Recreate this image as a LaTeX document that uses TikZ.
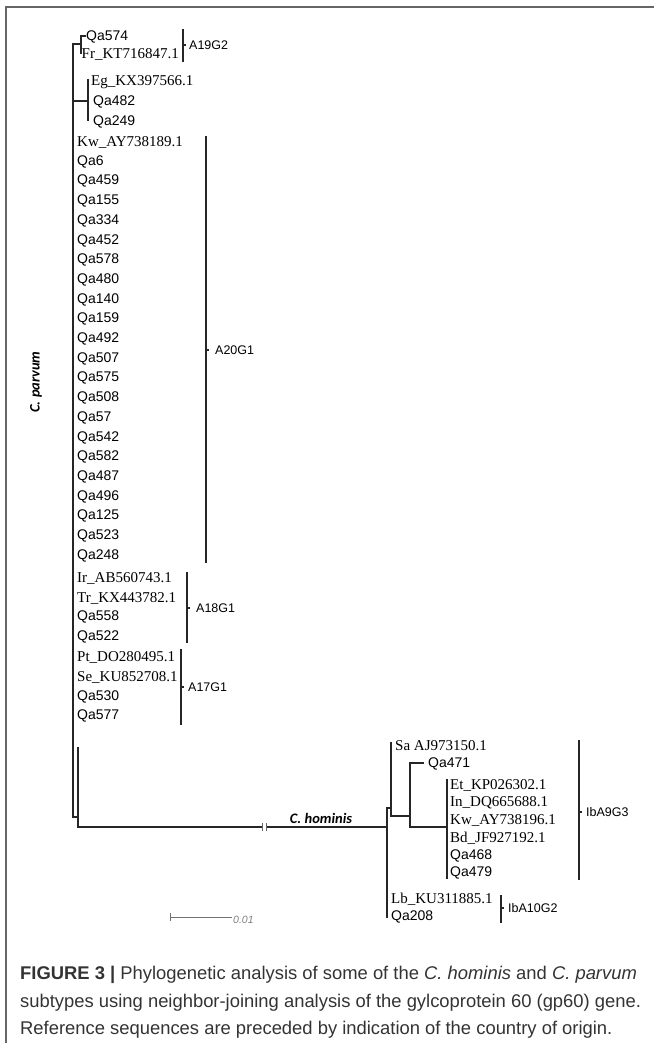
\documentclass[tikz,border=0pt]{standalone}
\usepackage{fontspec}
\setmainfont{Liberation Serif}
\newfontfamily\arialf{Liberation Sans}
\newfontfamily\calf{Carlito}
\definecolor{capgray}{HTML}{333333}
\definecolor{framegray}{HTML}{666666}
\tikzset{
  tree/.style={line width=1.2pt, draw=black!85, line cap=rect},
  brk/.style={line width=1.1pt, draw=black!85},
  leaf/.style={anchor=west, inner sep=0pt, font=\fontsize{15}{15}\selectfont},
  qa/.style={anchor=west, inner sep=0pt, font=\arialf\fontsize{14}{14}\selectfont},
  grp/.style={anchor=west, inner sep=0pt, font=\arialf\fontsize{12.5}{13}\selectfont},
  sp/.style={inner sep=0pt, font=\calf\bfseries\itshape\fontsize{14.5}{15}\selectfont},
  captxt/.style={anchor=west, inner sep=0pt, text=capgray, font=\arialf\fontsize{18.4}{19}\selectfont},
}
\begin{document}
\begin{tikzpicture}[x=1pt,y=-1pt]
\useasboundingbox (0,0) rectangle (654,1043);
% frame
\draw[framegray, line width=1.2pt] (6,1043) -- (6,7) -- (654,7);

% ---------- C. parvum ----------
\node[qa] (qa574) at (86,37) {Qa574};
\node[leaf] (fr) at (81.5,54) {Fr\_KT716847.1};
\node[leaf] (eg) at (91,82) {Eg\_KX397566.1};
\node[qa] (qa482) at (93,102) {Qa482};
\node[qa] (qa249) at (93,122) {Qa249};
\node[leaf] (kw) at (77,142) {Kw\_AY738189.1};
\foreach \t [count=\i] in {Qa6,Qa459,Qa155,Qa334,Qa452,Qa578,Qa480,Qa140,Qa159,Qa492,Qa507,Qa575,Qa508,Qa57,Qa542,Qa582,Qa487,Qa496,Qa125,Qa523,Qa248}
  \node[qa] (p\i) at (77,{142+\i*19.7}) {\t};
\node[leaf] (ir) at (77,578) {Ir\_AB560743.1};
\node[leaf] (tr) at (77,598) {Tr\_KX443782.1};
\node[qa] (qa558) at (77,617) {Qa558};
\node[qa] (qa522) at (77,637) {Qa522};
\node[leaf] (pt) at (77,657) {Pt\_DO280495.1};
\node[leaf] (se) at (77,677) {Se\_KU852708.1};
\node[qa] (qa530) at (77,697) {Qa530};
\node[qa] (qa577) at (77,716) {Qa577};

% parvum branches
\draw[tree] (73,44) -- (73,817) -- (78,817);
\draw[tree] (73,44) -- (81,44);
\draw[tree] (85,36) -- (81,36) -- (81,53);
\draw[tree] (73,101) -- (88,101);
\draw[tree] (88,80) -- (88,120);
\draw[tree] (78,748) -- (78,827);

% parvum brackets
\draw[brk] (183,29) -- (183,62);  \draw[brk] (183,45) -- (186,45);
\node[grp] (a19) at (189,45) {A19G2};
\draw[brk] (206,136) -- (206,563); \draw[brk] (206,350) -- (209,350);
\node[grp] (a20) at (215,350) {A20G1};
\draw[brk] (187,572) -- (187,643); \draw[brk] (187,608) -- (190,608);
\node[grp] (a18) at (196,608) {A18G1};
\draw[brk] (181,649) -- (181,725); \draw[brk] (181,687) -- (184,687);
\node[grp] (a17) at (188,687) {A17G1};

\node[sp, rotate=90] (cparv) at (36,382) {C. parvum};

% ---------- C. hominis ----------
\draw[tree] (78,827) -- (387,827);
\fill[white] (262,822) rectangle (266,832);
\draw[black!60, line width=0.7pt] (262,823) -- (262,831) (266,823) -- (266,831);
\node[sp, anchor=south] (chom) at (321,824) {C. hominis};

\draw[tree] (387,808) -- (387,917);
\draw[tree] (387,808) -- (391,808);
\draw[tree] (391,743) -- (391,816) -- (410,816);
\draw[tree] (423,763) -- (410,763) -- (410,827) -- (447,827);
\draw[tree] (447,780) -- (447,878);

\node[leaf] (sa) at (395,746) {Sa AJ973150.1};
\node[qa] (qa471) at (428,764) {Qa471};
\node[leaf] (et) at (450,785) {Et\_KP026302.1};
\node[leaf] (inn) at (450,803) {In\_DQ665688.1};
\node[leaf] (kw2) at (450,820) {Kw\_AY738196.1};
\node[leaf] (bd) at (450,838) {Bd\_JF927192.1};
\node[qa] (qa468) at (450,856) {Qa468};
\node[qa] (qa479) at (450,873) {Qa479};
\node[leaf] (lb) at (391,899) {Lb\_KU311885.1};
\node[qa] (qa208) at (391,917) {Qa208};

\draw[brk] (579,740) -- (579,880); \draw[brk] (579,812) -- (582,812);
\node[grp] (ib9) at (586,812) {IbA9G3};
\draw[brk] (501,895) -- (501,923); \draw[brk] (501,908) -- (504,908);
\node[grp] (ib10) at (508,908) {IbA10G2};

% scale bar
\draw[black!55, line width=0.8pt] (170,913) -- (170,921) (170,917) -- (232,917);
\node[anchor=west, inner sep=0pt, text=black!50, font=\arialf\itshape\fontsize{10.5}{11}\selectfont] (sc) at (233,920) {0.01};

% ---------- caption ----------
\node[captxt] (c1) at (20,975) {\textbf{FIGURE 3 |} Phylogenetic analysis of some of the \textit{C. hominis} and \textit{C. parvum}};
\node[captxt] (c2) at (20,1003) {subtypes using neighbor-joining analysis of the gylcoprotein 60 (gp60) gene.};
\node[captxt] (c3) at (20,1030) {Reference sequences are preceded by indication of the country of origin.};
\end{tikzpicture}
\end{document}
